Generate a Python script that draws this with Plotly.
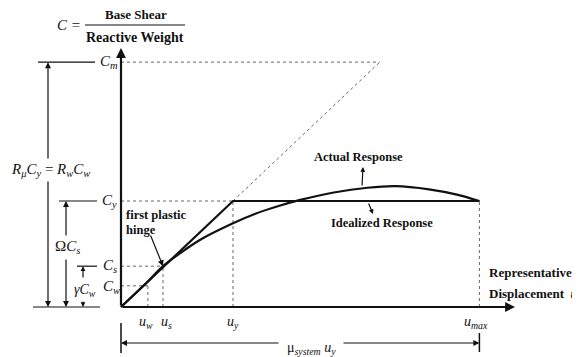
import plotly.graph_objects as go

# ---- data (normalised: displacement / u_y, coefficient / C_y) ----
u_w, u_s, u_y, u_max = 0.24, 0.375, 1.0, 3.2
C_w, C_s, C_y, C_m = 0.20, 0.385, 1.0, 2.31

actual_u = [0, 0.24, 0.375, 0.7, 1.0, 1.2, 1.4, 1.6, 1.9, 2.2, 2.45, 2.75, 3.0, 3.2]
actual_C = [0, 0.24, 0.385, 0.63, 0.79, 0.88, 0.95, 1.01, 1.08, 1.125, 1.14, 1.11, 1.06, 1.0]
ideal_u = [0, u_y, u_max]
ideal_C = [0, C_y, C_y]

# ---- layout helpers (page pixel -> data for placing labels) ----
OX, OY, SX, SY = 121, 307, 112, 106
PAGE_OFF = 8  # default body margin of the html page
def X(px):
    return (px - OX) / SX
def Y(py):
    return (OY - py) / SY

W, H = 580 - PAGE_OFF, 357 - PAGE_OFF
FONT = "Liberation Serif"
BLACK = "#111"
DOT = "#666"

fig = go.Figure()

def dotted(xs, ys):
    fig.add_trace(go.Scatter(x=xs, y=ys, mode="lines", hoverinfo="skip",
                             line=dict(color=DOT, width=1, dash="dot"), showlegend=False))

# guide lines
dotted([0, C_m * u_y / C_y], [C_m, C_m])
dotted([u_y, C_m * u_y / C_y], [C_y, C_m])
dotted([0, u_y], [C_y, C_y])
dotted([0, u_s], [C_s, C_s])
dotted([0, u_w], [C_w, C_w])
dotted([u_w, u_w], [0, C_w])
dotted([u_s, u_s], [0, C_s])
dotted([u_y, u_y], [0, C_y])
dotted([u_max, u_max], [0, C_y])

# responses
fig.add_trace(go.Scatter(x=ideal_u, y=ideal_C, mode="lines", showlegend=False,
                         line=dict(color=BLACK, width=2.2)))
fig.add_trace(go.Scatter(x=actual_u, y=actual_C, mode="lines", showlegend=False,
                         line=dict(color=BLACK, width=2.2, shape="spline", smoothing=0.8)))

ann = []
def arrow(x0, y0, x1, y1, width=1.2, head=2, size=1.0):
    ann.append(dict(x=x1, y=y1, ax=x0, ay=y0, xref="x", yref="y", axref="x", ayref="y",
                    text="", showarrow=True, arrowhead=head, arrowsize=size,
                    arrowwidth=width, arrowcolor=BLACK))
def seg(x0, y0, x1, y1, width=1.2):
    fig.add_shape(type="line", x0=x0, y0=y0, x1=x1, y1=y1, xref="x", yref="y",
                  line=dict(color=BLACK, width=width))
def label(x, y, text, size=13, xanchor="center", bold=False, italic=False):
    if bold:
        text = "<b>" + text + "</b>"
    if italic:
        text = "<i>" + text + "</i>"
    ann.append(dict(x=x, y=y, xref="x", yref="y", text=text, showarrow=False,
                    xanchor=xanchor, yanchor="middle",
                    font=dict(family=FONT, size=size, color=BLACK)))

# axes
arrow(0, 0, 0, Y(48), width=2.2, head=2, size=0.9)
arrow(0, 0, X(515), 0, width=2.2, head=2, size=0.9)

# left dimension lines
seg(X(38), C_m, X(95), C_m)
seg(X(59), C_y, X(97), C_y)
seg(X(77), C_s, X(97), C_s)
seg(X(33), 0, X(100), 0)
# R line
arrow(X(48), Y(160), X(48), C_m, width=1.2)
arrow(X(48), Y(180), X(48), 0, width=1.2)
# Omega line
arrow(X(66), Y(237), X(66), C_y, width=1.2)
arrow(X(66), Y(258), X(66), 0, width=1.2)
# gamma line
arrow(X(83), Y(279), X(83), C_s, width=1.2, size=0.8)
arrow(X(83), Y(300), X(83), 0, width=1.2, size=0.8)

# bottom dimension
seg(0, Y(323), 0, Y(353), width=1.5)
seg(u_max, Y(333), u_max, Y(352), width=1.5)
arrow(X(280), Y(343), 0, Y(343), width=1.2)
arrow(X(342), Y(343), u_max, Y(343), width=1.2)

# title fraction
label(X(69), Y(25), "C =", size=15, italic=True)
label(X(136), Y(14), "Base Shear", size=13, bold=True)
label(X(135), Y(37), "Reactive Weight", size=14, bold=True)
fig.add_shape(type="line", x0=X(85), x1=X(185), y0=Y(25), y1=Y(25), xref="x", yref="y",
              line=dict(color=BLACK, width=1.2))

# left labels
label(X(98), C_m, "<i>C</i><sub><i>m</i></sub>", size=15, xanchor="left")
label(X(100), C_y, "<i>C</i><sub><i>y</i></sub>", size=15, xanchor="left")
label(X(101), C_s, "<i>C</i><sub><i>s</i></sub>", size=15, xanchor="left")
label(X(101), Y(287), "<i>C</i><sub><i>w</i></sub>", size=15, xanchor="left")
label(X(50), Y(170), "<i>R</i><sub><i>μ</i></sub><i>C</i><sub><i>y</i></sub> = <i>R</i><sub><i>w</i></sub><i>C</i><sub><i>w</i></sub>", size=15)
label(X(67), Y(247), "Ω<i>C</i><sub><i>s</i></sub>", size=15)
label(X(85), Y(290), "<i>γC</i><sub><i>w</i></sub>", size=14)

# bottom labels
label(u_w - 0.02, Y(322), "<i>u</i><sub><i>w</i></sub>", size=14)
label(u_s + 0.03, Y(322), "<i>u</i><sub><i>s</i></sub>", size=14)
label(u_y, Y(322), "<i>u</i><sub><i>y</i></sub>", size=14)
label(u_max - 0.03, Y(322), "<i>u</i><sub><i>max</i></sub>", size=14)
label(X(311), Y(348), "μ<sub><i>system</i></sub> <i>u</i><sub><i>y</i></sub>", size=14)

# curve labels
label(X(124), Y(215), "first plastic", size=12.5, xanchor="left", bold=True)
label(X(124), Y(230), "hinge", size=12.5, xanchor="left", bold=True)
arrow(X(150), Y(234), u_s, C_s, width=1.2)
label(X(358), Y(157), "Actual Response", size=12.5, bold=True)
arrow(X(362), Y(187), X(363), Y(167), width=1.2, size=0.8)
label(X(382), Y(223), "Idealized Response", size=12.5, bold=True)
arrow(X(368), Y(202), X(373), Y(214), width=1.2, size=0.8)
label(X(487), Y(272), "Representative", size=13, xanchor="left", bold=True)
label(X(487), Y(293), "Displacement&nbsp;&nbsp;<i>u</i>", size=13, xanchor="left", bold=True)

fig.update_layout(
    width=W, height=H, margin=dict(l=0, r=0, t=0, b=0),
    paper_bgcolor="white", plot_bgcolor="white",
    xaxis=dict(range=[X(PAGE_OFF), X(580)], visible=False, fixedrange=True),
    yaxis=dict(range=[Y(357), Y(PAGE_OFF)], visible=False, fixedrange=True),
    annotations=ann, showlegend=False,
)

fig.write_html("out.html")
